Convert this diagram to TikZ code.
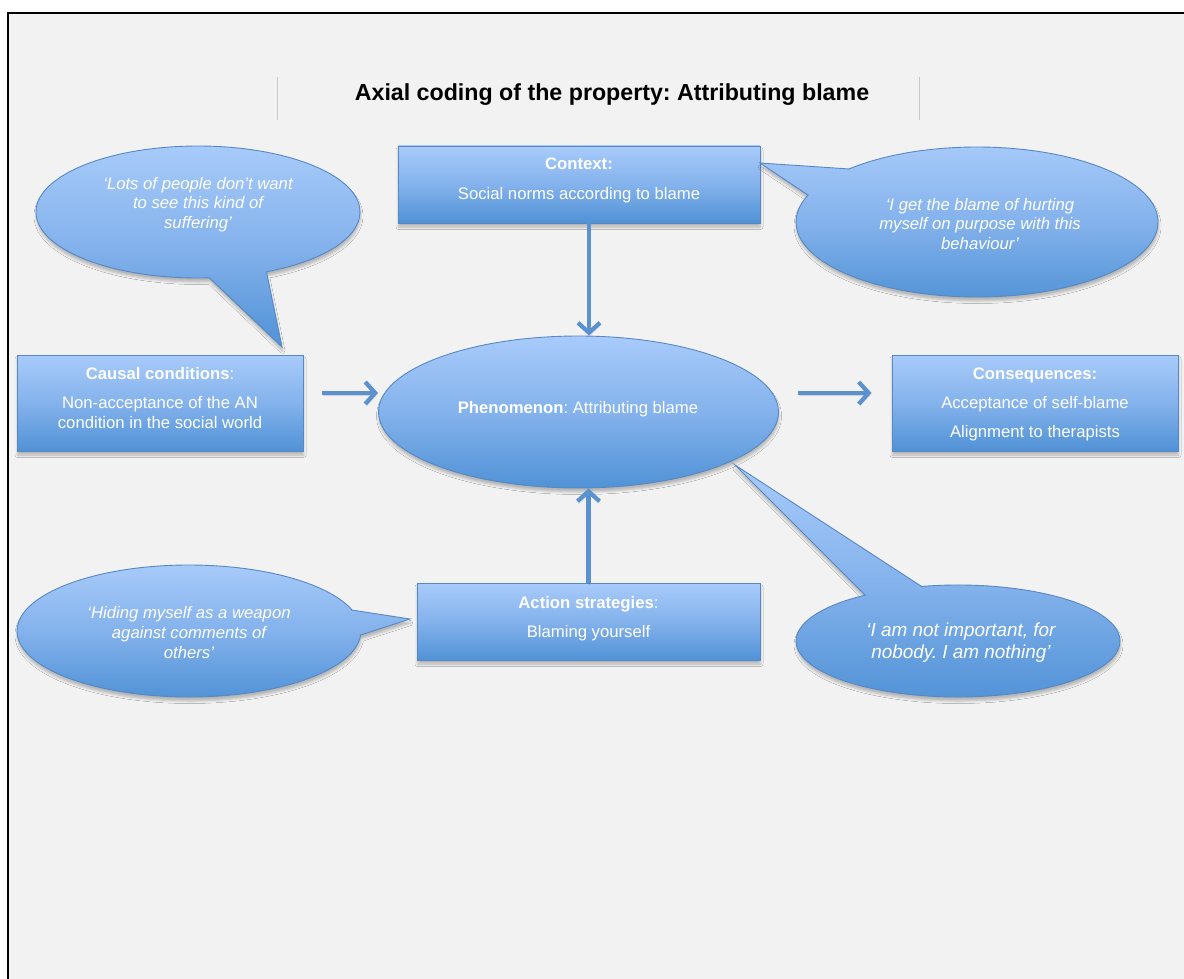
\documentclass[tikz,border=0pt]{standalone}
\usepackage{fontspec}
\setmainfont{Liberation Sans}
\usetikzlibrary{shapes.geometric,arrows.meta,shadows.blur}
\definecolor{bggray}{RGB}{242,242,242}
\definecolor{btop}{RGB}{168,203,250}
\definecolor{bmid}{RGB}{132,178,236}
\definecolor{bbot}{RGB}{80,146,214}
\definecolor{bline}{RGB}{86,136,196}
\definecolor{arrowblue}{RGB}{90,145,206}
\definecolor{sepgray}{RGB}{200,200,200}
\frenchspacing
\begin{document}
\begin{tikzpicture}[x=1pt,y=-1pt,
  bluefill/.style={top color=btop, bottom color=bbot, middle color=bmid, draw=bline, line width=0.9pt,
    blur shadow={shadow xshift=0.5pt, shadow yshift=-4pt, shadow blur radius=2.5pt, shadow opacity=25}},
  bbox/.style={bluefill, rectangle, inner sep=0pt},
  bellipse/.style={bluefill, ellipse, inner sep=0pt},
  txt/.style={text=white, align=center, font=\fontsize{16.7}{20}\selectfont, inner sep=0pt},
  txtline/.style={txt, anchor=base},
  quote/.style={txt, font=\fontsize{16.7}{19.8}\selectfont\itshape},
  conn/.style={arrowblue, line width=4.2pt, -{Straight Barb[length=10pt,width=22pt]},
    preaction={draw=black, opacity=0.13, transform canvas={xshift=1pt,yshift=-2.5pt}}}
]
\useasboundingbox (0,0) rectangle (1184,979);
\fill[white] (0,0) rectangle (1184,979);
\fill[bggray] (7.7,13) rectangle (1184,979);
\draw[black, line width=2.2pt] (7.7,979) -- (7.7,13) -- (1184,13);

% title
\draw[sepgray, line width=0.8pt] (277,77) -- (277,120);
\draw[sepgray, line width=0.8pt] (919,77) -- (919,120);
\node[font=\fontsize{23.2}{28}\selectfont\bfseries, inner sep=0pt, anchor=base] (title) at (612,101) {Axial coding of the property: Attributing blame};

% main shapes
\node[bbox, minimum width=362pt, minimum height=77pt] (ctx) at (579,184.5) {};
\node[bbox, minimum width=286pt, minimum height=96pt] (cause) at (160,403) {};
\node[bellipse, minimum width=400pt, minimum height=152pt] (phen) at (578.5,412) {};
\node[bbox, minimum width=286pt, minimum height=96pt] (cons) at (1035,403) {};
\node[bbox, minimum width=343pt, minimum height=77pt] (act) at (588.5,621.5) {};

% callouts
\path[bluefill] (198,212) ++(86:162 and 66) arc[start angle=86, end angle=425, x radius=162, y radius=66] -- (282,347) -- cycle;
\path[bluefill] (977,222) ++(225:181 and 75) arc[start angle=225, end angle=561, x radius=181, y radius=75] -- (760,163) -- cycle;
\path[bluefill] (189,631) ++(3.5:172 and 66) arc[start angle=3.5, end angle=341.5, x radius=172, y radius=66] -- (410,619) -- cycle;
\path[bluefill] (958,641) ++(257:162 and 56) arc[start angle=257, end angle=595, x radius=162, y radius=56] -- (735,465) -- cycle;

% texts
\node[txtline] (ctxhead) at (579,169.5) {\textbf{Context:}};
\node[txtline] (ctxbody) at (579,199.5) {Social norms according to blame};
\node[txtline] (causehead) at (160,379.5) {\textbf{Causal conditions}:};
\node[txt] (causebody) at (160,413) {Non-acceptance of the AN\\condition in the social world};
\node[txtline] (phentext) at (578,413.5) {\textbf{Phenomenon}: Attributing blame};
\node[txtline] (conshead) at (1035,379.5) {\textbf{Consequences:}};
\node[txtline] (cons1) at (1035,408.5) {Acceptance of self-blame};
\node[txtline] (cons2) at (1035,437.5) {Alignment to therapists};
\node[txtline] (acthead) at (588.5,608.5) {\textbf{Action strategies}:};
\node[txtline] (actbody) at (588.5,637.5) {Blaming yourself};

\node[quote] (q1) at (198,204.5) {‘Lots of people don’t want\\to see this kind of\\suffering’};
\node[quote] (q2) at (980,224) {‘I get the blame of hurting\\myself on purpose with this\\behaviour’};
\node[quote] (q3) at (189,632.5) {‘Hiding myself as a weapon\\against comments of\\others’};
\node[quote, font=\fontsize{18.9}{22}\selectfont\itshape] (q4) at (961,643) {‘I am not important, for\\nobody. I am nothing’};

% connectors
\coordinate (ctxarr) at ([xshift=10pt]ctx.south);
\draw[conn] (ctxarr) -- (ctxarr |- phen.north);
\draw[conn] (act.north) -- (act.north |- phen.south);
\coordinate (causearr) at ([xshift=19pt,yshift=10pt]cause.east);
\draw[conn] (causearr) -- (causearr -| phen.west);
\coordinate (consarr) at ([xshift=-20pt,yshift=10pt]cons.west);
\coordinate (phenarr) at (phen.east |- consarr);
\draw[conn] ([xshift=19.5pt]phenarr) -- (consarr);
\end{tikzpicture}
\end{document}
